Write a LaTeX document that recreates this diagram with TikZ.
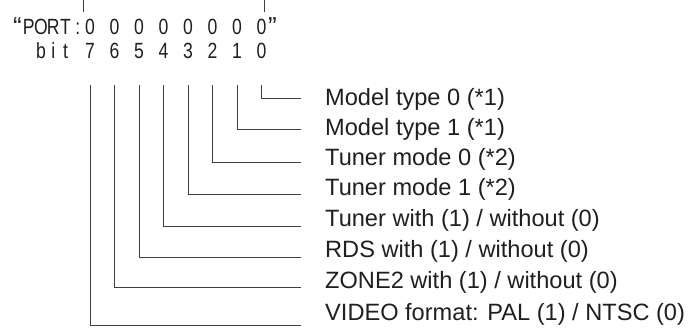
\documentclass[tikz,border=0pt]{standalone}
\usepackage{fontspec}
\setmainfont{Liberation Sans}
\newfontfamily\monofnt[FakeStretch=0.8]{Liberation Sans}
\begin{document}
\begin{tikzpicture}[x=1pt,y=-1pt,
  lbl/.style={anchor=base west, inner sep=0pt, font=\fontsize{23.6}{28}\selectfont, text=black!88},
  ch/.style={anchor=base, inner sep=0pt, font=\monofnt\fontsize{22}{26}\selectfont, text=black!88},
  qt/.style={anchor=base, inner sep=0pt, font=\fontsize{26}{30}\selectfont, text=black!88},
  wire/.style={line width=1pt, draw=black!75}]
\useasboundingbox (0,0) rectangle (695,327);
% top ticks
\coordinate (ta) at (83,0); \coordinate (tb) at (83,12);
\coordinate (tc) at (264,0); \coordinate (td) at (264,12);
\draw[wire] (ta) -- (tb);
\draw[wire] (tc) -- (td);
% PORT row
\node[qt] (p0) at ({90+12.25*(-6)+1},35) {“};
\foreach \c [count=\i from 1] in {P,O,R,T,:}
  \node[ch] (p\i) at ({90+12.25*(\i-6)},34) {\c};
\foreach \k in {0,...,7}
  \node[ch] (z\k) at ({90+24.5*\k},34) {0};
\node[qt] (q) at ({90+24.5*7+11},35) {”};
% bit row
\foreach \c [count=\i from 0] in {b,i,t}
  \node[ch] (w\i) at ({90+12.25*(\i-4)},58) {\c};
\foreach \b in {0,...,7}
  \node[ch] (b\b) at ({90+24.5*(7-\b)},58) {\b};
% labels
\node[lbl] (L0) at (325,105) {Model type 0 (*1)};
\node[lbl] (L1) at (325,135) {Model type 1 (*1)};
\node[lbl] (L2) at (325,165) {Tuner mode 0 (*2)};
\node[lbl] (L3) at (325,195) {Tuner mode 1 (*2)};
\node[lbl] (L4) at (325,226) {Tuner with (1) / without (0)};
\node[lbl] (L5) at (325,257) {RDS with (1) / without (0)};
\node[lbl] (L6) at (325,288) {ZONE2 with (1) / without (0)};
\node[lbl] (L7) at (325,320) {VIDEO format: PAL (1) / NTSC (0)};
% connector ends
\foreach \b/\y in {0/98,1/129,2/162,3/194,4/226,5/257,6/287,7/325}
  \coordinate (h\b) at (301,\y);
\foreach \b in {0,...,7}
  \draw[wire] (b\b.south) ++(0,27) |- (h\b);
\end{tikzpicture}
\end{document}
